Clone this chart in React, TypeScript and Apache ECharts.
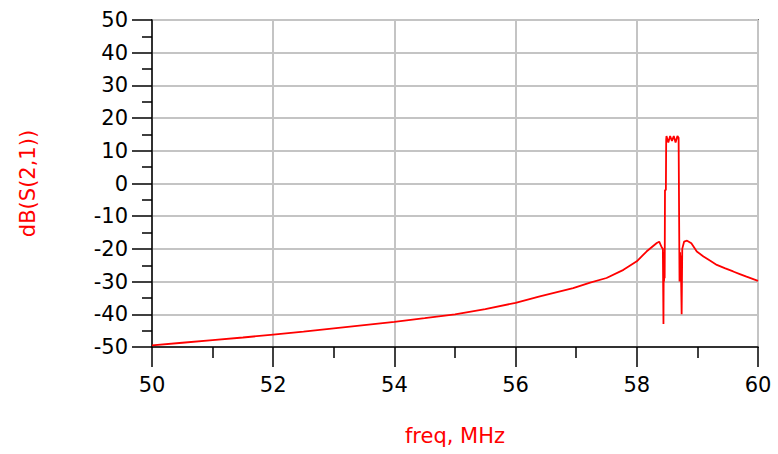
import React, { useEffect, useRef } from "react";
import * as echarts from "echarts";

const freq = [
  50.0, 50.5, 51.0, 51.5, 52.0, 52.5, 53.0, 53.5, 54.0, 54.5, 55.0, 55.5, 56.0, 56.4, 56.95,
  57.23, 57.5, 57.78, 58.0, 58.16, 58.33, 58.37, 58.41, 58.43,
  58.44, 58.445, 58.45, 58.455, 58.46, 58.465, 58.48, 58.485,
  58.49, 58.52, 58.55, 58.58, 58.61, 58.64, 58.67, 58.69, 58.7,
  58.705, 58.715, 58.72, 58.725, 58.74, 58.75, 58.78, 58.83, 58.9,
  58.99, 59.1, 59.2, 59.32, 59.45, 59.59, 59.7, 59.81, 59.9, 60.0,
];
const dbS21 = [
  -49.5, -48.7, -47.9, -47.1, -46.2, -45.3, -44.3, -43.3, -42.3, -41.2, -40.0, -38.4, -36.5, -34.5, -32.0,
  -30.3, -28.9, -26.4, -23.8, -20.8, -18.2, -17.8, -19.5, -20.0,
  -43.0, -22.0, -30.0, -21.0, -29.0, -2.0, -2.0, 13.5,
  14.5, 12.5, 14.5, 13.0, 14.5, 12.5, 14.5, 14.0, 14.0,
  -30.0, -21.0, -29.0, -22.0, -40.0, -20.0, -17.8, -17.5, -18.3,
  -20.8, -22.3, -23.5, -24.9, -25.9, -26.9, -27.7, -28.5, -29.1, -29.8,
];
const xTicks = { min: 50, max: 60, step: 2 };
const yTicks = { min: -50, max: 50, step: 10 };

const FONT = "DejaVu Sans";

export default function App() {
  const ref = useRef<HTMLDivElement>(null);
  useEffect(() => {
    if (!ref.current) return;
    const chart = echarts.init(ref.current, null, { renderer: "svg" });
    const data = freq.map((f, i) => [f, dbS21[i]]);
    chart.setOption({
      animation: false,
      backgroundColor: "#ffffff",
      grid: {
        left: 152,
        right: 20,
        top: 20,
        bottom: 107,
        show: true,
        borderColor: "#000000",
        borderWidth: 1.5,
      },
      xAxis: {
        type: "value",
        min: xTicks.min,
        max: xTicks.max,
        interval: xTicks.step,
        name: "freq, MHz",
        nameLocation: "middle",
        nameGap: 78,
        nameTextStyle: { color: "#ff0000", fontSize: 21, fontFamily: FONT },
        axisLine: { show: true, onZero: false, lineStyle: { color: "#000000", width: 1.5 } },
        axisTick: { show: true, length: 20, lineStyle: { color: "#000000", width: 1.5 } },
        minorTick: { show: true, splitNumber: 2, length: 11, lineStyle: { color: "#000000", width: 1.5 } },
        axisLabel: { color: "#000000", fontSize: 21, fontFamily: FONT, margin: 27 },
        splitLine: { show: true, lineStyle: { color: "#c4c4c4", width: 2 } },
      },
      yAxis: {
        type: "value",
        min: yTicks.min,
        max: yTicks.max,
        interval: yTicks.step,
        name: "dB(S(2,1))",
        nameLocation: "middle",
        nameGap: 114,
        nameRotate: 90,
        nameTextStyle: { color: "#ff0000", fontSize: 21, fontFamily: FONT },
        axisLine: { show: true, onZero: false, lineStyle: { color: "#000000", width: 1.5 } },
        axisTick: { show: true, length: 20, lineStyle: { color: "#000000", width: 1.5 } },
        minorTick: { show: true, splitNumber: 2, length: 10, lineStyle: { color: "#000000", width: 1.5 } },
        axisLabel: { color: "#000000", fontSize: 21, fontFamily: FONT, margin: 24 },
        splitLine: { show: true, lineStyle: { color: "#c4c4c4", width: 2 } },
      },
      series: [
        {
          type: "line",
          data,
          showSymbol: false,
          symbol: "none",
          lineStyle: { color: "#ff0000", width: 1.8 },
        },
      ],
    });
    return () => chart.dispose();
  }, []);
  return (
    <div
      ref={ref}
      style={{ position: "fixed", left: 0, top: 0, width: 778, height: 454, background: "#fff" }}
    />
  );
}
